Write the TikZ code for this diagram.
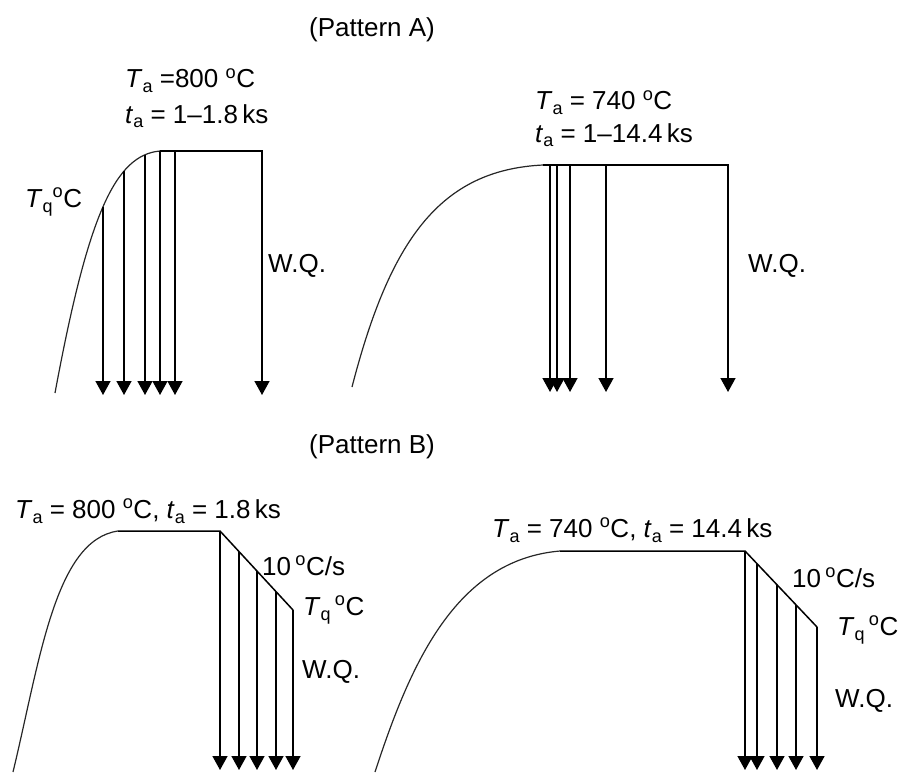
\documentclass[tikz,border=0pt]{standalone}
\usepackage{fontspec}
\setmainfont{Liberation Sans}
\usetikzlibrary{arrows.meta, calc}
\newcommand{\dgC}{\textsuperscript{o}C}
\newcommand{\subsc}[1]{\raisebox{-5pt}{\fontsize{18}{18}\selectfont #1}}
\newcommand{\Tann}{\textit{T}\subsc{a}}
\newcommand{\tann}{\textit{t}\subsc{a}}
\newcommand{\Tqu}{\textit{T}\subsc{q}}
\tikzset{
  quench/.style={-{Triangle[length=14pt, width=15pt]}, line width=1.5pt},
  profile/.style={line width=1.5pt},
  heatcurve/.style={line width=1.2pt, black!85},
  lbl/.style={inner sep=0pt, anchor=base west, font=\fontsize{26}{30}\selectfont}
}

\begin{document}
\begin{tikzpicture}[x=1pt, y=-1pt]
    \useasboundingbox (0,0) rectangle (901,781);

    % Pattern A, 800 C
    \node[lbl, anchor=base] (titleA) at (372,37) {(Pattern A)};
    \coordinate (al0) at (55,393);
    \coordinate (alh) at (160,151);
    \coordinate (ale) at (262,151);
    \coordinate (alb) at (0,395);
    \draw[heatcurve] (al0) .. controls (88,215) and (115,155) .. (alh);
    \draw[quench] (alh) -- (ale) -- (ale |- alb);
    % quench points on the heating curve
    \coordinate (alq1) at (103,206.7);
    \coordinate (alq2) at (124,171.4);
    \coordinate (alq3) at (145,155.4);
    \coordinate (alq4) at (175,151);
    \foreach \p in {alq1,alq2,alq3,alh,alq4}
        \draw[quench] (\p) -- (\p |- alb);
    \node[lbl] (alTa) at (125,88) {\Tann{} =800 \dgC};
    \node[lbl] (alta) at (125,123) {\tann{} = 1--1.8\,ks};
    \node[lbl] (alTq) at (25,207) {\Tqu\dgC};
    \node[lbl] (alwq) at (268,272) {W.Q.};

    % Pattern A, 740 C
    \coordinate (ar0) at (352,387);
    \coordinate (arh) at (543,165);
    \coordinate (are) at (728,165);
    \coordinate (arb) at (0,392);
    \draw[heatcurve] (ar0) .. controls (390,240) and (440,170) .. (arh);
    \draw[quench] (arh) -- (are) -- (are |- arb);
    \foreach \x in {550,557,570,606} {
        \coordinate (arq) at (\x,165);
        \draw[quench] (arq) -- (arq |- arb);
    }
    \node[lbl] (arTa) at (535,110) {\Tann{} = 740 \dgC};
    \node[lbl] (arta) at (535,142) {\tann{} = 1--14.4\,ks};
    \node[lbl] (arwq) at (748,272) {W.Q.};

    % Pattern B, 800 C
    \node[lbl, anchor=base] (titleB) at (372,453) {(Pattern B)};
    \coordinate (bl0) at (13,772);
    \coordinate (blh) at (118,531);
    \coordinate (ble) at (220,531);
    \coordinate (blq) at (293,610);
    \coordinate (blb) at (0,770);
    \draw[heatcurve] (bl0) .. controls (40,660) and (55,540) .. (blh);
    \draw[profile] (blh) -- (ble) -- (blq);
    \foreach \f in {0,19/73,37/73,56/73,1} {
        \coordinate (blc) at ($(ble)!\f!(blq)$);
        \draw[quench] (blc) -- (blc |- blb);
    }
    \node[lbl] (blTa) at (15,518) {\Tann{} = 800 \dgC, \tann{} = 1.8\,ks};
    \node[lbl] (blrate) at (262,575) {10\,\dgC/s};
    \node[lbl] (blTq) at (303,615) {\Tqu\,\dgC};
    \node[lbl] (blwq) at (302,678) {W.Q.};

    % Pattern B, 740 C
    \coordinate (br0) at (375,772);
    \coordinate (brh) at (560,551);
    \coordinate (bre) at (745,551);
    \coordinate (brq) at (817,627);
    \coordinate (brb) at (0,770);
    \draw[heatcurve] (br0) .. controls (410,665) and (455,560) .. (brh);
    \draw[profile] (brh) -- (bre) -- (brq);
    \foreach \f in {0,12/72,32/72,51/72,1} {
        \coordinate (brc) at ($(bre)!\f!(brq)$);
        \draw[quench] (brc) -- (brc |- brb);
    }
    \node[lbl] (brTa) at (492,537) {\Tann{} = 740 \dgC, \tann{} = 14.4\,ks};
    \node[lbl] (brrate) at (792,587) {10\,\dgC/s};
    \node[lbl] (brTq) at (837,635) {\Tqu\,\dgC};
    \node[lbl] (brwq) at (835,707) {W.Q.};
\end{tikzpicture}
\end{document}
